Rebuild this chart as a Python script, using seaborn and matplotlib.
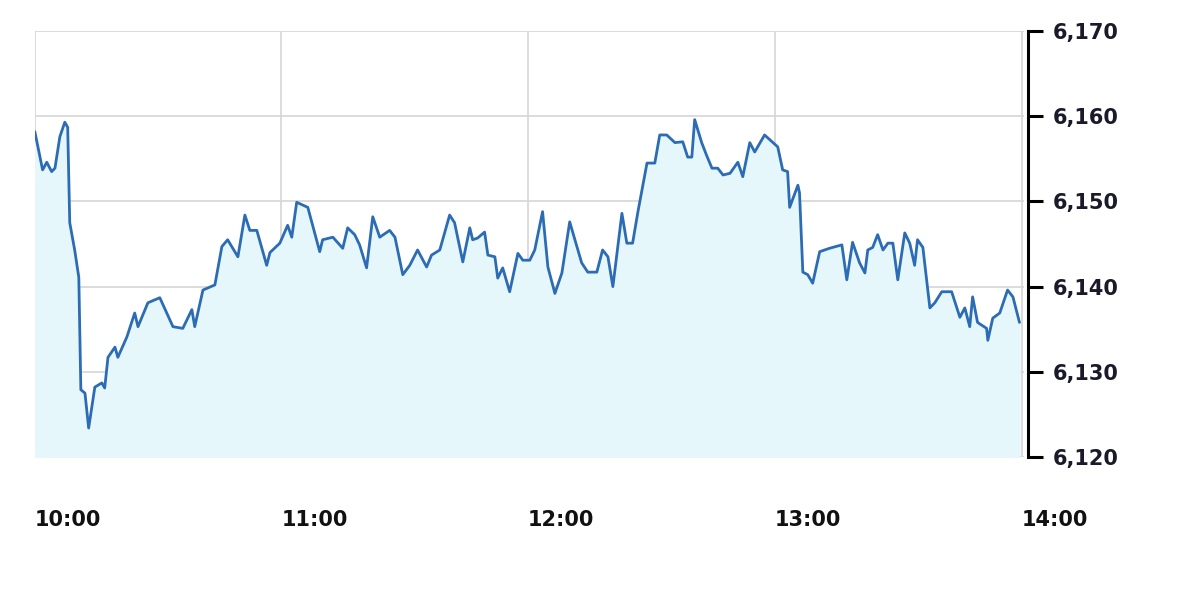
import numpy as np
import pandas as pd
import seaborn as sns
import matplotlib.pyplot as plt

# minutes after 10:00 and index level
minutes = [0, 1.9, 2.9, 4.1, 4.9, 6.1, 7.3, 8.0, 8.5, 9.7, 10.7, 11.2, 12.2, 13.1, 14.6,
           16.3, 17.0, 17.8, 19.5, 20.2, 22.4, 24.3, 25.1, 27.5, 30.4, 33.6, 36.0, 38.2,
           38.9, 40.9, 43.8, 45.5, 46.9, 49.4, 51.1, 52.3, 54.0, 56.4, 57.2, 59.6, 61.5,
           62.5, 63.7, 66.4, 69.3, 70.0, 72.5, 74.9, 76.1, 77.8, 79.0, 80.7, 82.2, 83.9,
           86.3, 87.6, 89.5, 91.2, 93.1, 95.3, 96.5, 98.5, 100.9, 102.1, 104.1, 105.8,
           106.5, 107.7, 109.4, 110.2, 111.9, 112.6, 113.8, 115.5, 117.5, 118.7, 120.4,
           121.6, 123.5, 124.8, 126.5, 128.2, 130.1, 133.0, 134.5, 136.7, 138.1, 139.4,
           140.6, 142.8, 144.0, 145.4, 146.7, 148.9, 150.8, 152.0, 153.7, 155.7, 157.6,
           158.8, 159.8, 160.5, 162.2, 163.4, 164.7, 166.1, 167.4, 169.1, 171.0, 172.2,
           173.9, 175.1, 177.5, 180.7, 181.9, 183.1, 183.6, 185.6, 186.0, 186.8, 188.0,
           189.2, 190.9, 193.3, 196.3, 197.5, 198.9, 200.6, 201.9, 202.6, 203.8, 205.0,
           206.3, 207.5, 208.7, 209.9, 211.6, 212.8, 214.0, 214.7, 216.0, 217.7, 218.9,
           220.6, 223.0, 225.0, 226.2, 227.4, 228.1, 229.3, 231.5, 231.8, 233.0, 234.7,
           236.6, 237.9, 239.5]
values = [6158.2, 6153.7, 6154.6, 6153.5, 6153.9, 6157.6, 6159.3, 6158.7, 6147.5, 6144.3,
          6141.1, 6127.9, 6127.5, 6123.4, 6128.2, 6128.7, 6128.1, 6131.7, 6132.9, 6131.7,
          6134.1, 6136.9, 6135.3, 6138.1, 6138.7, 6135.3, 6135.1, 6137.3, 6135.3, 6139.6,
          6140.2, 6144.7, 6145.5, 6143.5, 6148.4, 6146.6, 6146.6, 6142.5, 6144.0, 6145.1,
          6147.2, 6145.8, 6149.9, 6149.3, 6144.1, 6145.5, 6145.8, 6144.5, 6146.9, 6146.1,
          6144.9, 6142.2, 6148.2, 6145.8, 6146.6, 6145.8, 6141.4, 6142.5, 6144.3, 6142.3,
          6143.7, 6144.3, 6148.4, 6147.5, 6142.9, 6146.9, 6145.5, 6145.7, 6146.4, 6143.7,
          6143.5, 6141.0, 6142.2, 6139.4, 6143.9, 6143.1, 6143.1, 6144.3, 6148.8, 6142.3,
          6139.2, 6141.6, 6147.6, 6142.8, 6141.7, 6141.7, 6144.3, 6143.5, 6140.0, 6148.6,
          6145.1, 6145.1, 6148.8, 6154.5, 6154.5, 6157.8, 6157.8, 6156.9, 6157.0, 6155.2,
          6155.2, 6159.6, 6156.9, 6155.4, 6153.9, 6153.9, 6153.1, 6153.3, 6154.6, 6152.9,
          6156.9, 6155.8, 6157.8, 6156.4, 6153.7, 6153.5, 6149.3, 6151.9, 6151.0, 6141.7,
          6141.4, 6140.4, 6144.1, 6144.5, 6144.9, 6140.8, 6145.2, 6142.8, 6141.6, 6144.3,
          6144.6, 6146.1, 6144.3, 6145.1, 6145.1, 6140.8, 6146.3, 6145.1, 6142.5, 6145.5,
          6144.6, 6137.5, 6138.1, 6139.4, 6139.4, 6136.4, 6137.5, 6135.3, 6138.8, 6135.8,
          6135.1, 6133.7, 6136.3, 6136.9, 6139.6, 6138.8, 6135.8]

x_ticks = [0, 60, 120, 180, 240]
x_labels = ["10:00", "11:00", "12:00", "13:00", "14:00"]
y_ticks = [6120, 6130, 6140, 6150, 6160, 6170]

df = pd.DataFrame({"minute": minutes, "level": values})

sns.set_style("white")
plt.rcParams["font.weight"] = "bold"
fig = plt.figure(figsize=(12, 5.93), dpi=100)
ax = fig.add_axes([0.029, 0.2293, 0.824, 0.7184])

ax.fill_between(df["minute"], df["level"], 6120, color="#e6f7fb", zorder=1)
sns.lineplot(data=df, x="minute", y="level", ax=ax, color="#2c6cb4", linewidth=2.0, zorder=3)

ax.set_xlim(0, 240.5)
ax.set_ylim(6120, 6170)
ax.yaxis.tick_right()
ax.set_xticks(x_ticks)
ax.set_xticklabels(x_labels, ha="left")
ax.set_yticks(y_ticks)
ax.set_yticklabels([f"{v:,}" for v in y_ticks])
ax.set_xlabel("")
ax.set_ylabel("")

ax.grid(True, color="#d6d6d6", linewidth=1.2, zorder=0)
ax.set_axisbelow(True)
for side in ["top", "left", "bottom"]:
    ax.spines[side].set_visible(False)
ax.spines["right"].set_color("black")
ax.spines["right"].set_linewidth(2.2)
ax.spines["right"].set_position(("outward", 3))

ax.tick_params(axis="y", direction="out", length=11, width=2.2, color="black", pad=7,
               labelsize=15, labelcolor="#1a1a2a")
ax.tick_params(axis="x", direction="out", length=7, width=1, color="#e0e0e0", pad=31,
               labelsize=15, labelcolor="#111111")

fig.savefig("out.png", dpi=100)
plt.close()
